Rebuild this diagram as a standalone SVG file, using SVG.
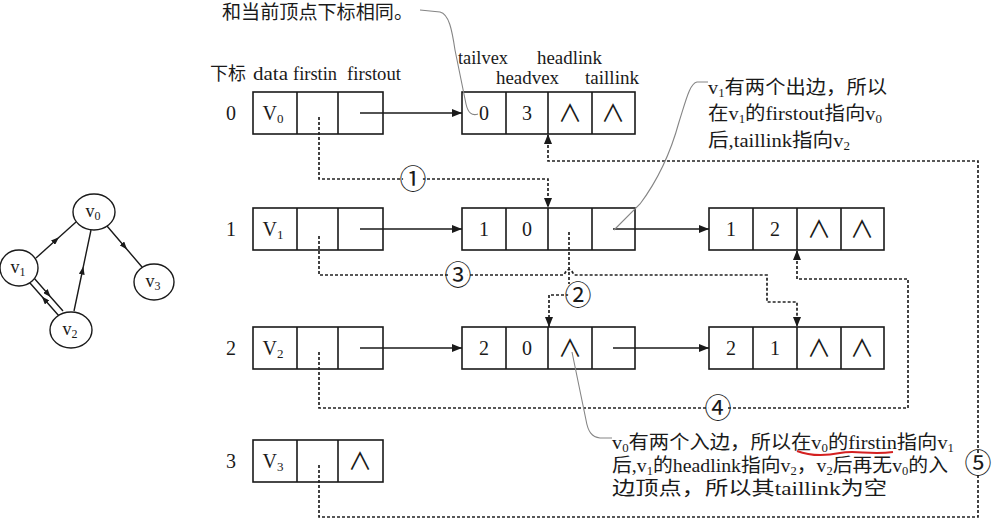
<svg xmlns="http://www.w3.org/2000/svg" width="992" height="528" viewBox="0 0 992 528">
<style>
.bg{fill:#fff}
.box{fill:none;stroke:#1a1a1a;stroke-width:1.6}
.t{font-family:'Liberation Serif','Noto Sans CJK SC',serif;fill:#1a1a1a}
.cell{font-size:20px;text-anchor:middle}
.sym{font-family:'Noto Sans CJK SC','DejaVu Sans',sans-serif;font-size:24px;text-anchor:middle;fill:#1a1a1a}
.hdr{font-size:18px}
.ann{font-size:19px}
.num{font-family:'Noto Sans CJK SC','DejaVu Sans',sans-serif;font-size:27px;text-anchor:middle;fill:#1a1a1a}
.dot{fill:none;stroke:#222;stroke-width:1.7;stroke-dasharray:3 2}
.solid{fill:none;stroke:#1a1a1a;stroke-width:1.5}
.lead{fill:none;stroke:#858585;stroke-width:1.1}
.gl{fill:none;stroke:#1a1a1a;stroke-width:1.4}
.circ{fill:#fff;stroke:#1a1a1a;stroke-width:1.4}
</style>
<defs>
<marker id="ah" viewBox="0 0 10 8" refX="10" refY="4" markerWidth="10" markerHeight="8" markerUnits="userSpaceOnUse" orient="auto"><path d="M0,0 L10,4 L0,8 z" fill="#1a1a1a"/></marker>
<marker id="mid" viewBox="0 0 8 6" refX="4" refY="3" markerWidth="8" markerHeight="6" markerUnits="userSpaceOnUse" orient="auto"><path d="M0,0 L8,3 L0,6 z" fill="#1a1a1a"/></marker>
</defs>
<rect class="bg" x="0" y="0" width="992" height="528"/>

<!-- graph -->
<g id="graph-edges">
<path class="gl" d="M36,258 L56,240 L76,222" marker-mid="url(#mid)"/>
<path class="gl" d="M74,311 L82.5,270.5 L91,230" marker-mid="url(#mid)"/>
<path class="gl" d="M107,226 L124.5,246.5 L142,267" marker-mid="url(#mid)"/>
<path class="gl" d="M34,278 L48,294 L63,311" marker-mid="url(#mid)"/>
<path class="gl" d="M59,316 L44.5,299.5 L30,283" marker-mid="url(#mid)"/>
</g>
<g id="g-v0"><ellipse class="circ" cx="94" cy="212" rx="21" ry="18"/><text class="t" x="93" y="217" font-size="18" text-anchor="middle">v<tspan font-size="12" dy="3">0</tspan></text></g>
<g id="g-v1"><ellipse class="circ" cx="19" cy="268" rx="19" ry="18"/><text class="t" x="18" y="273" font-size="18" text-anchor="middle">v<tspan font-size="12" dy="3">1</tspan></text></g>
<g id="g-v2"><ellipse class="circ" cx="71" cy="330" rx="21" ry="18"/><text class="t" x="70" y="335" font-size="18" text-anchor="middle">v<tspan font-size="12" dy="3">2</tspan></text></g>
<g id="g-v3"><ellipse class="circ" cx="154" cy="282" rx="20" ry="18"/><text class="t" x="153" y="287" font-size="18" text-anchor="middle">v<tspan font-size="12" dy="3">3</tspan></text></g>

<!-- headers -->
<g id="headers">
<text class="t hdr" x="210" y="80">下标</text>
<text class="t hdr" x="253" y="80" textLength="35" lengthAdjust="spacingAndGlyphs">data</text>
<text class="t hdr" x="293" y="80" textLength="44" lengthAdjust="spacingAndGlyphs">firstin</text>
<text class="t hdr" x="347" y="80" textLength="54" lengthAdjust="spacingAndGlyphs">firstout</text>
<text class="t hdr" x="458" y="64" textLength="50" lengthAdjust="spacingAndGlyphs">tailvex</text>
<text class="t hdr" x="537" y="64" textLength="65" lengthAdjust="spacingAndGlyphs">headlink</text>
<text class="t hdr" x="496" y="84" textLength="63" lengthAdjust="spacingAndGlyphs">headvex</text>
<text class="t hdr" x="585" y="84" textLength="54" lengthAdjust="spacingAndGlyphs">taillink</text>
</g>

<!-- vertex table -->
<g id="vertex-0">
<text class="t cell" x="231" y="120">0</text>
<rect class="box" x="253" y="92" width="130" height="42"/><path class="box" d="M297,92 V134 M338,92 V134"/>
<text class="t cell" x="273" y="120">V<tspan font-size="13" dy="3">0</tspan></text>
</g>
<g id="vertex-1">
<text class="t cell" x="231" y="236">1</text>
<rect class="box" x="253" y="208" width="130" height="42"/><path class="box" d="M297,208 V250 M338,208 V250"/>
<text class="t cell" x="273" y="236">V<tspan font-size="13" dy="3">1</tspan></text>
</g>
<g id="vertex-2">
<text class="t cell" x="231" y="355">2</text>
<rect class="box" x="253" y="327" width="130" height="42"/><path class="box" d="M297,327 V369 M338,327 V369"/>
<text class="t cell" x="273" y="355">V<tspan font-size="13" dy="3">2</tspan></text>
</g>
<g id="vertex-3">
<text class="t cell" x="231" y="468">3</text>
<rect class="box" x="253" y="440" width="130" height="42"/><path class="box" d="M297,440 V482 M338,440 V482"/>
<text class="t cell" x="273" y="468">V<tspan font-size="13" dy="3">3</tspan></text>
<text class="sym" x="360" y="470">∧</text>
</g>

<!-- edge nodes -->
<g id="edge-0-3">
<rect class="box" x="462" y="92" width="173" height="42"/><path class="box" d="M506,92 V134 M548,92 V134 M592,92 V134"/>
<text class="t cell" x="484" y="120">0</text><text class="t cell" x="527" y="120">3</text>
<text class="sym" x="570" y="122">∧</text><text class="sym" x="613" y="122">∧</text>
</g>
<g id="edge-1-0">
<rect class="box" x="462" y="208" width="173" height="42"/><path class="box" d="M506,208 V250 M548,208 V250 M592,208 V250"/>
<text class="t cell" x="484" y="236">1</text><text class="t cell" x="527" y="236">0</text>
</g>
<g id="edge-1-2">
<rect class="box" x="709" y="208" width="175" height="42"/><path class="box" d="M753,208 V250 M797,208 V250 M841,208 V250"/>
<text class="t cell" x="731" y="236">1</text><text class="t cell" x="775" y="236">2</text>
<text class="sym" x="819" y="238">∧</text><text class="sym" x="862" y="238">∧</text>
</g>
<g id="edge-2-0">
<rect class="box" x="462" y="327" width="173" height="42"/><path class="box" d="M506,327 V369 M548,327 V369 M592,327 V369"/>
<text class="t cell" x="484" y="355">2</text><text class="t cell" x="527" y="355">0</text>
<text class="sym" x="570" y="357">∧</text>
</g>
<g id="edge-2-1">
<rect class="box" x="709" y="327" width="175" height="42"/><path class="box" d="M753,327 V369 M797,327 V369 M841,327 V369"/>
<text class="t cell" x="731" y="355">2</text><text class="t cell" x="775" y="355">1</text>
<text class="sym" x="819" y="357">∧</text><text class="sym" x="862" y="357">∧</text>
</g>

<!-- connectors -->
<g id="connectors">
<path class="solid" d="M360,113 H462" marker-end="url(#ah)"/>
<path class="solid" d="M360,229 H462" marker-end="url(#ah)"/>
<path class="solid" d="M613,229 H709" marker-end="url(#ah)"/>
<path class="solid" d="M360,348 H462" marker-end="url(#ah)"/>
<path class="solid" d="M613,348 H709" marker-end="url(#ah)"/>

<path class="dot" d="M319,117 V179 H548 V208" marker-end="url(#ah)"/>
<path class="dot" d="M569,232 V284"/>
<path class="dot" d="M569,295 H549 V327" marker-end="url(#ah)"/>
<path class="dot" d="M319,236 V275 H564 Q569,264 574,275 H767 V302 H797 V327" marker-end="url(#ah)"/>
<path class="dot" d="M319,352 V408 H908 V279 H797 V250" marker-end="url(#ah)"/>
<path class="dot" d="M319,465 V517 H978 V161 H548 V134" marker-end="url(#ah)"/>

<g id="n1"><circle cx="413" cy="179" r="10" fill="#fff"/><text class="num" x="413" y="189">①</text></g>
<g id="n2"><circle cx="578" cy="295" r="10" fill="#fff"/><text class="num" x="578" y="305">②</text></g>
<g id="n3"><circle cx="458" cy="275" r="10" fill="#fff"/><text class="num" x="458" y="285">③</text></g>
<g id="n4"><circle cx="718" cy="408" r="10" fill="#fff"/><text class="num" x="718" y="418">④</text></g>
<g id="n5"><circle cx="978" cy="463" r="10" fill="#fff"/><text class="num" x="978" y="473">⑤</text></g>
</g>

<!-- annotations -->
<g id="annotations">
<path class="lead" d="M420,10 L440,12 C449,14 452,30 455,50 L466,104 C468,113 472,116 478,114"/>
<text class="t ann" x="222" y="19" textLength="191" lengthAdjust="spacingAndGlyphs">和当前顶点下标相同。</text>

<path class="lead" d="M708,82 L697,82 C690,83 686,100 679,122 C670,155 658,180 640,204 L614,230"/>
<text class="t ann" x="708" y="94" textLength="179" lengthAdjust="spacingAndGlyphs">v<tspan font-size="12" dy="3">1</tspan><tspan dy="-3">有两个出边，所以</tspan></text>
<text class="t ann" x="708" y="120" textLength="174" lengthAdjust="spacingAndGlyphs">在v<tspan font-size="12" dy="3">1</tspan><tspan dy="-3">的firstout指向v</tspan><tspan font-size="12" dy="3">0</tspan></text>
<text class="t ann" x="708" y="147" textLength="142" lengthAdjust="spacingAndGlyphs">后,taillink指向v<tspan font-size="12" dy="3">2</tspan></text>

<path class="lead" d="M572,352 L586,420 C588,432 592,437 600,438 L612,438"/>
<text class="t ann" x="612" y="449" textLength="342" lengthAdjust="spacingAndGlyphs">v<tspan font-size="12" dy="3">0</tspan><tspan dy="-3">有两个入边，所以在v</tspan><tspan font-size="12" dy="3">0</tspan><tspan dy="-3">的firstin指向v</tspan><tspan font-size="12" dy="3">1</tspan></text>
<text class="t ann" x="612" y="472" textLength="336" lengthAdjust="spacingAndGlyphs">后,v<tspan font-size="12" dy="3">1</tspan><tspan dy="-3">的headlink指向v</tspan><tspan font-size="12" dy="3">2</tspan><tspan dy="-3">，v</tspan><tspan font-size="12" dy="3">2</tspan><tspan dy="-3">后再无v</tspan><tspan font-size="12" dy="3">0</tspan><tspan dy="-3">的入</tspan></text>
<text class="t ann" x="612" y="495" textLength="275" lengthAdjust="spacingAndGlyphs">边顶点，所以其taillink为空</text>
<path d="M797,451 C810,456 825,456 840,453 C855,450 870,455 893,452" fill="none" stroke="#d42020" stroke-width="2"/>
</g>
</svg>
